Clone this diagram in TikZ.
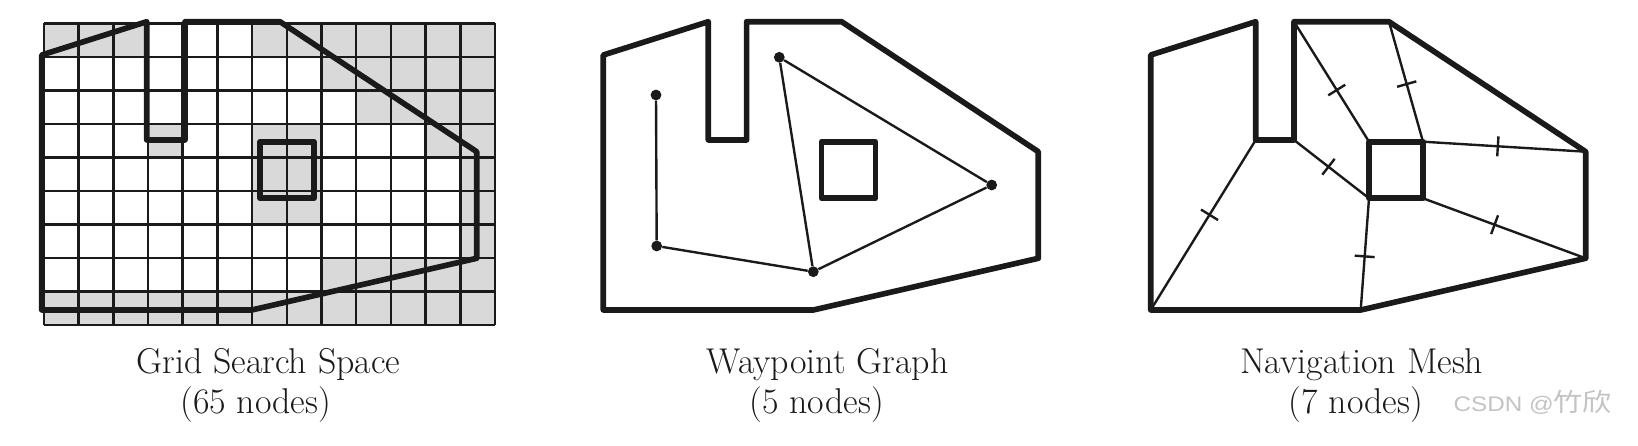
\documentclass[tikz,border=0pt]{standalone}
\usepackage{fontspec}
\usetikzlibrary{decorations.markings}
\newfontfamily\wmfont{Liberation Sans}
\newfontfamily\cjkfont{Noto Sans CJK SC}
\definecolor{wallk}{RGB}{26,26,26}
\definecolor{cellgray}{RGB}{217,217,217}
\definecolor{wmgray}{RGB}{195,195,195}
% level outline with its inner block; #1 = x offset, #2 = name prefix
\newcommand{\levelmap}[2]{%
  \begin{scope}[shift={(#1,0)}]
    \coordinate (#2a) at (41.7,55);
    \coordinate (#2b) at (146.7,21.7);
    \coordinate (#2c) at (146.7,140);
    \coordinate (#2d) at (185,140);
    \coordinate (#2e) at (185,21.7);
    \coordinate (#2f) at (280,21.7);
    \coordinate (#2g) at (476.7,151.7);
    \coordinate (#2h) at (476.7,258.3);
    \coordinate (#2i) at (251.7,310);
    \coordinate (#2j) at (41.7,310);
    \coordinate (#2p) at (260,141.7);
    \coordinate (#2q) at (314,141.7);
    \coordinate (#2r) at (314,198.3);
    \coordinate (#2s) at (260,198.3);
  \end{scope}
  \draw[wall] (#2a) -- (#2b) -- (#2c) -- (#2d) -- (#2e) -- (#2f) -- (#2g)
    -- (#2h) -- (#2i) -- (#2j) -- cycle;
  \draw[wall] (#2p) -- (#2q) -- (#2r) -- (#2s) -- cycle;}
\tikzset{
  wall/.style={draw=wallk, line width=4pt, line join=round, line cap=round},
  gline/.style={draw=wallk, line width=1.8pt},
  link/.style={draw=wallk, line width=1.7pt},
  wpt/.style={circle, fill=wallk, inner sep=0pt, minimum size=0.27cm},
  portal/.style={link, postaction={decorate, decoration={markings,
      mark=at position #1 with {\draw[wallk, line width=1.7pt] (0,-0.25cm) -- (0,0.25cm);}}}},
  portal/.default=0.5,
  ttl/.style={font=\fontsize{25.5}{30}\selectfont, text=wallk, anchor=base, inner sep=0pt},
}
\begin{document}
\begin{tikzpicture}[x=0.025cm, y=-0.025cm]
  \useasboundingbox (0,0) rectangle (1638,446);
  % grid search space
  \fill[cellgray] (44,23.3) rectangle (495,325);
  \foreach \r/\a/\b in {0/3/5, 1/0/7, 2/0/8, 3/0/2, 3/4/5, 3/8/10, 4/0/5, 4/8/11,
                        5/0/5, 5/8/11, 6/0/11, 7/0/7}
    \fill[white] ({44+\a*34.69},{23.3+\r*33.52}) rectangle ({44+(\b+1)*34.69},{23.3+(\r+1)*33.52});
  \foreach \i in {0,...,13}
    \draw[gline] ({44+\i*34.69},23.3) -- ({44+\i*34.69},325);
  \foreach \j in {0,...,9}
    \draw[gline] (44,{23.3+\j*33.52}) -- (495,{23.3+\j*33.52});
  \levelmap{0}{g}
  % waypoint graph
  \levelmap{561.6}{wp}
  \node[wpt] (way1) at (656,95) {};
  \node[wpt] (way2) at (656.7,246) {};
  \node[wpt] (way3) at (813.3,271.7) {};
  \node[wpt] (way4) at (779.3,57.3) {};
  \node[wpt] (way5) at (991.7,185) {};
  \draw[link] (way1) -- (way2) -- (way3) -- (way4) -- (way5) -- (way3);
  % navigation mesh
  \levelmap{1109}{n}
  \draw[portal=0.44] (nc) -- (nj);
  \draw[portal=0.46] (nd) -- (ns);
  \draw[portal=0.57] (ne) -- (np);
  \draw[portal=0.52] (nf) -- (nq);
  \draw[portal=0.46] (nq) -- (ng);
  \draw[portal=0.44] (nr) -- (nh);
  \draw[portal=0.52] (ns) -- (ni);
  % captions
  \node[ttl] (gridname) at (268.3,373.3) {Grid Search Space};
  \node[ttl] (gridcount) at (255.8,413.3) {(65 nodes)};
  \node[ttl] (wayname) at (827.5,373.3) {Waypoint Graph};
  \node[ttl] (waycount) at (816.7,413.3) {(5 nodes)};
  \node[ttl] (navname) at (1361.7,373.3) {Navigation Mesh};
  \node[ttl] (navcount) at (1355.8,413.3) {(7 nodes)};
  \node[font=\wmfont, text=wmgray, anchor=base west, inner sep=0pt] (wmark) at (1453.3,411.7)
    {\scalebox{1.15}[1]{\fontsize{15}{16}\selectfont CSDN @{\cjkfont\fontsize{18}{18}\selectfont 竹欣}}};
\end{tikzpicture}
\end{document}
